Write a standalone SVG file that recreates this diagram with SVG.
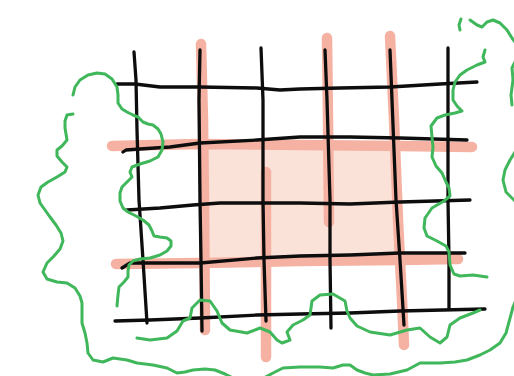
<svg xmlns="http://www.w3.org/2000/svg" width="514" height="376" viewBox="0 0 514 376">
<style>
.fill{fill:#fbe2d9;stroke:none}
.hl{fill:none;stroke:#f5b2a3;stroke-width:10.5;stroke-linecap:round;stroke-linejoin:round}
.ink{fill:none;stroke:#0d0d0d;stroke-width:3.3;stroke-linecap:round;stroke-linejoin:round}
.green{fill:none;stroke:#3fb75a;stroke-width:3;stroke-linecap:round;stroke-linejoin:round}
</style>
<rect width="514" height="376" fill="#fff"/>
<g id="shading">
<rect class="fill" x="205" y="146" width="190" height="114" rx="6"/>
</g>
<g id="highlights">
<polyline class="hl" points="201,44 203,120 204,200 205,330"/>
<polyline class="hl" points="266,172 266,260 266,357"/>
<polyline class="hl" points="327,38 328,120 329,222"/>
<polyline class="hl" points="390,36 394,120 398,220 402,300 404,345"/>
<polyline class="hl" points="112,146 200,144 300,145 400,146 472,147"/>
<polyline class="hl" points="116,264 200,263 300,261 400,260 458,259"/>
</g>
<g id="grid">
<polyline class="ink" points="117,84 135,84 160,87 200,87 257,88 280,90 300,89 340,88 390,87 440,84 477,82"/>
<polyline class="ink" points="123,152 126,150 140,149 170,147 200,143 257,140 300,137 350,137 400,138 467,140"/>
<polyline class="ink" points="127,210 160,208 193,205 220,203 257,203 300,203 350,204 400,202 470,200"/>
<polyline class="ink" points="122,268 130,263 200,263 257,258 300,256 350,255 400,253 465,253"/>
<polyline class="ink" points="115,321 150,320 200,318 257,315 300,314 350,313 400,311 485,309"/>
<polyline class="ink" points="134,52 136,80 137,130 139,200 143,260 147,323"/>
<polyline class="ink" points="200,50 199,100 200,200 201,260 202,331"/>
<polyline class="ink" points="261,48 263,100 263,200 264,260 266,321"/>
<polyline class="ink" points="325,50 327,100 330,200 330,260 331,328"/>
<polyline class="ink" points="390,50 392,100 396,200 400,260 404,325"/>
<polyline class="ink" points="448,48 448,100 448,200 449,260 449,308"/>
</g>
<g id="outlines">
<polyline class="green" points="73,95 75,87 80,80 88,75 97,73 105,74 112,79 117,87 118,95 118,103 122,109 127,112 133,115 138,117 143,122 148,124 153,125 158,129 161,134 163,142 162,150 158,157 150,161 140,164 132,167 130,172 132,177 127,182 122,187 120,193 120,201 123,208 128,212 136,216 143,220 149,225 152,231 154,236 160,237 167,238 171,241 171,246 167,251 160,255 150,258 140,259 133,261 129,265 128,271 128,277 124,282 119,287 118,295 117,306"/>
<polyline class="green" points="73,114 67,115 65,121 65,128 67,140 62,146 57,150 57,156 62,162 67,167 65,172 57,177 48,182 41,187 38,195 40,203 45,210 50,217 56,225 61,233 63,241 60,249 54,256 47,263 43,272 47,279 57,282 67,283 75,288 80,296 82,303 82,313 82,323 85,333 87,343 88,353 93,360 103,362 113,358 127,360 137,363 153,365 167,368 177,373 185,372 193,370 205,369 215,370 225,374 235,379 260,380 273,373 283,368 300,367 320,367 333,368 343,365 350,365 357,370 365,373 373,375 390,374 407,370 420,363 440,363 455,362 467,360 480,355 490,350 500,343 506,333 509,322 513,307 516,300"/>
<polyline class="green" points="137,338 150,340 167,338 177,331 183,321 190,318 192,308 200,300 210,301 217,311 222,323 230,330 247,333 260,328 270,332 277,340 282,343 290,340 287,332 293,325 303,320 310,315 312,301 320,295 333,294 345,301 347,311 350,318 357,326 370,332 390,335 407,330 420,328 430,337 440,343 447,337 450,325 460,318 473,313 480,310"/>
<polyline class="green" points="485,50 483,57 485,62 477,65 467,70 460,75 455,82 453,90 453,100 457,106 462,111 455,113 445,115 437,118 431,126 432,137 433,147 432,157 436,166 442,173 446,182 449,188 450,196 444,201 432,208 425,218 424,228 427,236 437,241 446,246 449,252 450,265 454,274 460,276 473,275 487,277"/>
<polyline class="green" points="461,19 459,25 460,30"/>
<polyline class="green" points="470,20 477,25 482,27 487,22 493,20 500,23 507,30 512,38 515,42"/>
<polyline class="green" points="515,62 512,68 513,80 511,95 512,105"/>
<polyline class="green" points="515,152 510,160 505,170 503,180 506,192 515,201"/>
</g>
</svg>
